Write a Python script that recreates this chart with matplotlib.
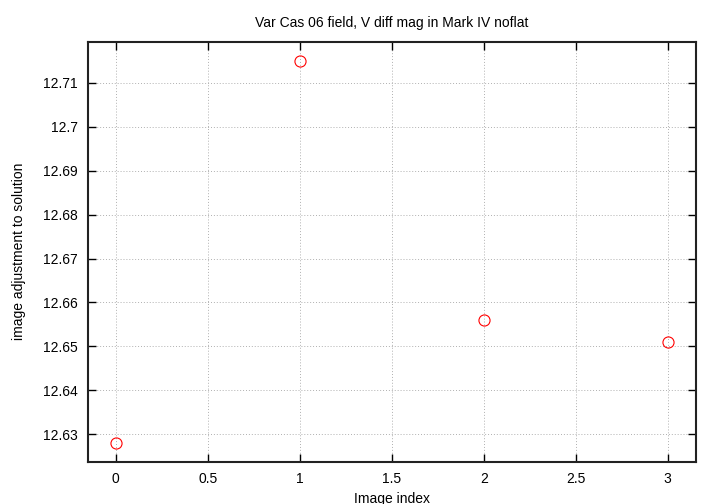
import matplotlib
matplotlib.use('Agg')
import matplotlib.pyplot as plt
from matplotlib.ticker import FixedLocator

# data
image_index = [0, 1, 2, 3]
adjustment = [12.628, 12.715, 12.656, 12.651]

x_ticks = [0, 0.5, 1, 1.5, 2, 2.5, 3]
x_tick_labels = ['0', '0.5', '1', '1.5', '2', '2.5', '3']
y_ticks = [12.63, 12.64, 12.65, 12.66, 12.67, 12.68, 12.69, 12.7, 12.71]
y_tick_labels = ['12.63', '12.64', '12.65', '12.66', '12.67', '12.68', '12.69', '12.7', '12.71']

plt.rcParams['font.family'] = ['Liberation Sans', 'DejaVu Sans']

fig = plt.figure(figsize=(7.2, 5.04), dpi=100)
ax = fig.add_axes([0.1226, 0.0839, 0.9667 - 0.1226, 0.9173 - 0.0839])

ax.plot(image_index, adjustment, linestyle='none', marker='o', markersize=8,
        markerfacecolor='none', markeredgecolor='#ff0000', markeredgewidth=0.8)

ax.set_xlim(-0.149, 3.154)
ax.set_ylim(12.6238, 12.7193)
ax.xaxis.set_major_locator(FixedLocator(x_ticks))
ax.set_xticklabels(x_tick_labels)
ax.yaxis.set_major_locator(FixedLocator(y_ticks))
ax.set_yticklabels(y_tick_labels)

ax.grid(True, color='#b0b0b0', linestyle=(0, (1, 2)), linewidth=0.7)
ax.tick_params(direction='in', length=6, width=1, top=True, right=True,
               labelsize=10, pad=7.5, colors='black')
for s in ax.spines.values():
    s.set_linewidth(1.5)
    s.set_color('#222222')

ax.set_title('Var Cas 06 field, V diff mag in Mark IV noflat', fontsize=10, pad=10.6)
ax.set_xlabel('Image index', fontsize=10, labelpad=4.5)
ax.set_ylabel('image adjustment to solution', fontsize=10, labelpad=12)

fig.savefig('out.png', dpi=100)
